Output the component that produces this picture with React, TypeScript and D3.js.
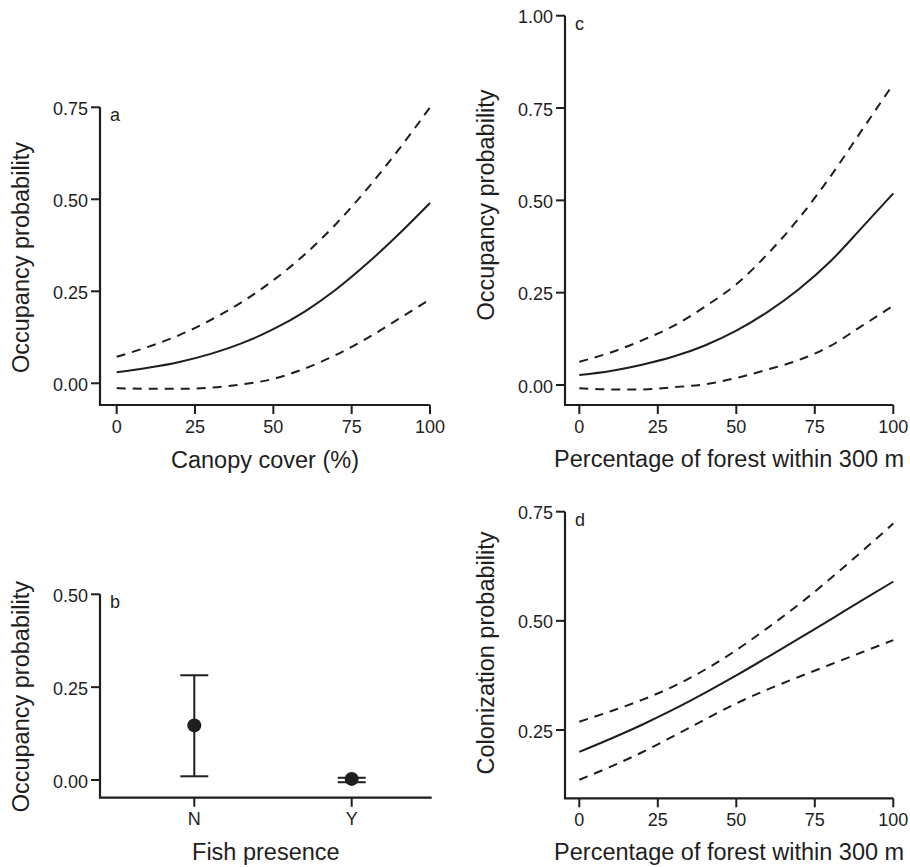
import React from 'react';
import * as d3 from 'd3';

// ---------- data ----------
const xGrid = [0, 10, 20, 30, 40, 50, 60, 70, 80, 90, 100];
const xTicks = [0, 25, 50, 75, 100];

// panel a: canopy cover
const aMean = [0.03, 0.042, 0.058, 0.08, 0.109, 0.147, 0.195, 0.255, 0.326, 0.405, 0.49];
const aUpper = [0.072, 0.099, 0.131, 0.172, 0.221, 0.28, 0.35, 0.433, 0.529, 0.635, 0.75];
const aLower = [-0.013, -0.015, -0.015, -0.012, -0.003, 0.012, 0.04, 0.077, 0.123, 0.175, 0.228];
const aYTicks = [0, 0.25, 0.5, 0.75];

// panel b: fish presence
const fishCats = ['N', 'Y'];
const fishMean = [0.147, 0.003];
const fishLower = [0.01, -0.006];
const fishUpper = [0.282, 0.006];
const bYTicks = [0, 0.25, 0.5];

// panel c: forest within 300 m (occupancy)
const cMean = [0.027, 0.038, 0.055, 0.077, 0.107, 0.147, 0.198, 0.26, 0.335, 0.426, 0.519];
const cUpper = [0.063, 0.088, 0.121, 0.16, 0.212, 0.273, 0.355, 0.452, 0.565, 0.69, 0.815];
const cLower = [-0.009, -0.012, -0.012, -0.006, 0.002, 0.019, 0.042, 0.068, 0.106, 0.16, 0.215];
const cYTicks = [0, 0.25, 0.5, 0.75, 1];

// panel d: forest within 300 m (colonization)
const dMean = [0.2, 0.23, 0.262, 0.297, 0.335, 0.375, 0.417, 0.46, 0.503, 0.547, 0.59];
const dUpper = [0.269, 0.293, 0.319, 0.35, 0.388, 0.433, 0.484, 0.538, 0.597, 0.659, 0.723];
const dLower = [0.136, 0.166, 0.199, 0.236, 0.274, 0.311, 0.343, 0.372, 0.4, 0.428, 0.456];
const dYTicks = [0.25, 0.5, 0.75];

// ---------- style ----------
const FONT = "'Liberation Sans', Arial, Helvetica, sans-serif";
const INK = '#1e1e1e';
const TICK_FS = 18;
const TITLE_FS = 23.5;
const DASH = '9,7';

type PanelProps = {
  axisLeft: number;
  axisRight: number;
  axisTop: number;
  axisBottom: number;
  xPos: (v: any) => number;
  y: d3.ScaleLinear<number, number>;
  xTickVals: any[];
  xFmt: (v: any) => string;
  yTickVals: number[];
  letter: string;
  yTitle: string;
  yTitleCenter: number;
  xTitle: string;
  xTitleBaseline: number;
  children?: React.ReactNode;
};

function Panel(p: PanelProps) {
  const fmtY = d3.format('.2f');
  return (
    <g>
      {p.children}
      <path
        d={`M${p.axisLeft},${p.axisTop}V${p.axisBottom}H${p.axisRight}`}
        fill="none"
        stroke={INK}
        strokeWidth={2.2}
      />
      {p.yTickVals.map((v) => (
        <g key={'y' + v}>
          <line x1={p.axisLeft - 9} x2={p.axisLeft} y1={p.y(v)} y2={p.y(v)} stroke={INK} strokeWidth={2} />
          <text
            x={p.axisLeft - 12}
            y={p.y(v) + 7.5}
            textAnchor="end"
            fontSize={TICK_FS}
            fontFamily={FONT}
            fill={INK}
          >
            {fmtY(v)}
          </text>
        </g>
      ))}
      {p.xTickVals.map((v) => (
        <g key={'x' + v}>
          <line x1={p.xPos(v)} x2={p.xPos(v)} y1={p.axisBottom} y2={p.axisBottom + 9} stroke={INK} strokeWidth={2} />
          <text
            x={p.xPos(v)}
            y={p.axisBottom + 27.5}
            textAnchor="middle"
            fontSize={TICK_FS}
            fontFamily={FONT}
            fill={INK}
          >
            {p.xFmt(v)}
          </text>
        </g>
      ))}
      <text x={p.axisLeft + 10} y={p.axisTop + 14} fontSize={TICK_FS} fontFamily={FONT} fill={INK}>
        {p.letter}
      </text>
      <text
        transform={`translate(${p.axisLeft - 71.5},${p.yTitleCenter}) rotate(-90)`}
        textAnchor="middle"
        fontSize={TITLE_FS}
        fontFamily={FONT}
        fill={INK}
      >
        {p.yTitle}
      </text>
      <text
        x={(p.axisLeft + p.axisRight) / 2}
        y={p.xTitleBaseline}
        textAnchor="middle"
        fontSize={TITLE_FS}
        fontFamily={FONT}
        fill={INK}
      >
        {p.xTitle}
      </text>
    </g>
  );
}

function Curves(props: {
  x: d3.ScaleLinear<number, number>;
  y: d3.ScaleLinear<number, number>;
  mean: number[];
  upper: number[];
  lower: number[];
}) {
  const line = d3
    .line<number>()
    .x((_, i) => props.x(xGrid[i]))
    .y((v) => props.y(v))
    .curve(d3.curveMonotoneX);
  return (
    <g fill="none" stroke={INK} strokeWidth={2}>
      <path d={line(props.upper) || ''} strokeDasharray={DASH} />
      <path d={line(props.mean) || ''} />
      <path d={line(props.lower) || ''} strokeDasharray={DASH} />
    </g>
  );
}

export default function App() {
  const fmtX = (v: any) => String(v);

  // panel a
  const xa = d3.scaleLinear().domain([0, 100]).range([116.7, 430]);
  const ya = d3.scaleLinear().domain([0, 0.75]).range([383.3, 107.3]);

  // panel c
  const xc = d3.scaleLinear().domain([0, 100]).range([579.3, 893.3]);
  const yc = d3.scaleLinear().domain([0, 1]).range([385, 15.7]);

  // panel b
  const xb = d3.scalePoint<string>().domain(fishCats).range([194.3, 351.7]);
  const yb = d3.scaleLinear().domain([0, 0.5]).range([780, 594.3]);

  // panel d
  const xd = d3.scaleLinear().domain([0, 100]).range([579.3, 893.3]);
  const yd = d3.scaleLinear().domain([0.25, 0.75]).range([730, 511.7]);

  return (
    <svg
      width={910}
      height={867}
      style={{ position: 'absolute', left: 0, top: 0, background: '#fff' }}
    >
      <rect width={910} height={867} fill="#fff" />
      <Panel
        axisLeft={100}
        axisRight={430}
        axisTop={107.3}
        axisBottom={405}
        xPos={(v) => xa(v)}
        y={ya}
        xTickVals={xTicks}
        xFmt={fmtX}
        yTickVals={aYTicks}
        letter="a"
        yTitle="Occupancy probability"
        yTitleCenter={257.5}
        xTitle="Canopy cover (%)"
        xTitleBaseline={467.5}
      >
        <Curves x={xa} y={ya} mean={aMean} upper={aUpper} lower={aLower} />
      </Panel>

      <Panel
        axisLeft={565}
        axisRight={893.3}
        axisTop={15.7}
        axisBottom={405}
        xPos={(v) => xc(v)}
        y={yc}
        xTickVals={xTicks}
        xFmt={fmtX}
        yTickVals={cYTicks}
        letter="c"
        yTitle="Occupancy probability"
        yTitleCenter={205}
        xTitle="Percentage of forest within 300 m"
        xTitleBaseline={467}
      >
        <Curves x={xc} y={yc} mean={cMean} upper={cUpper} lower={cLower} />
      </Panel>

      <Panel
        axisLeft={100}
        axisRight={431.7}
        axisTop={594.3}
        axisBottom={797.7}
        xPos={(v) => xb(v) as number}
        y={yb}
        xTickVals={fishCats}
        xFmt={fmtX}
        yTickVals={bYTicks}
        letter="b"
        yTitle="Occupancy probability"
        yTitleCenter={696.7}
        xTitle="Fish presence"
        xTitleBaseline={860}
      >
        <g stroke={INK} strokeWidth={2} fill={INK}>
          {fishCats.map((c, i) => {
            const cx = xb(c) as number;
            return (
              <g key={c}>
                <line x1={cx} x2={cx} y1={yb(fishLower[i])} y2={yb(fishUpper[i])} />
                <line x1={cx - 14} x2={cx + 14} y1={yb(fishLower[i])} y2={yb(fishLower[i])} />
                <line x1={cx - 14} x2={cx + 14} y1={yb(fishUpper[i])} y2={yb(fishUpper[i])} />
                <circle cx={cx} cy={yb(fishMean[i])} r={7} stroke="none" />
              </g>
            );
          })}
        </g>
      </Panel>

      <Panel
        axisLeft={565}
        axisRight={893.3}
        axisTop={511.7}
        axisBottom={798.3}
        xPos={(v) => xd(v)}
        y={yd}
        xTickVals={xTicks}
        xFmt={fmtX}
        yTickVals={dYTicks}
        letter="d"
        yTitle="Colonization probability"
        yTitleCenter={653}
        xTitle="Percentage of forest within 300 m"
        xTitleBaseline={860}
      >
        <Curves x={xd} y={yd} mean={dMean} upper={dUpper} lower={dLower} />
      </Panel>
    </svg>
  );
}
